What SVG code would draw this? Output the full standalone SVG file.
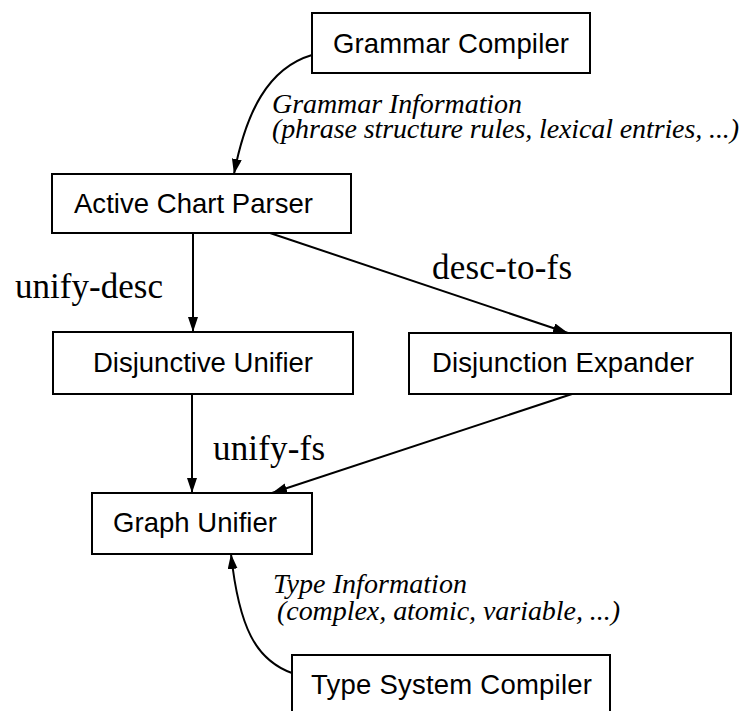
<svg xmlns="http://www.w3.org/2000/svg" width="745" height="711" viewBox="0 0 745 711">
  <defs>
    <marker id="arrow" markerUnits="userSpaceOnUse" markerWidth="16" markerHeight="11" refX="15" refY="5" orient="auto">
      <path d="M0,0 L15,5 L0,10 z" fill="#000"/>
    </marker>
    <style>
      .box { fill: #fff; stroke: #000; stroke-width: 2; }
      .name { font-family: "Liberation Sans", Arial, sans-serif; font-size: 27.5px; fill: #000; }
      .note { font-family: "Liberation Serif", "Times New Roman", serif; font-style: italic; font-size: 28px; fill: #000; }
      .call { font-family: "Liberation Serif", "Times New Roman", serif; font-size: 35px; fill: #000; }
      .edge { fill: none; stroke: #000; stroke-width: 2; marker-end: url(#arrow); }
    </style>
  </defs>
  <rect width="745" height="711" fill="#fff"/>

  <g id="connectors">
    <path class="edge" d="M312,55 C268,68 246,112 234,174"/>
    <path class="edge" d="M193,233 L193,332"/>
    <path class="edge" d="M270,233 L568,333"/>
    <path class="edge" d="M192,394 L192,493"/>
    <path class="edge" d="M572,394 L272,493"/>
    <path class="edge" d="M292,673 C256,660 239,628 231,554"/>
    <text class="note" x="272" y="113" textLength="250">Grammar Information</text>
    <text class="note" x="272" y="138" textLength="467">(phrase structure rules, lexical entries, ...)</text>
    <text class="call" x="15" y="298" textLength="148">unify-desc</text>
    <text class="call" x="432" y="279" textLength="140">desc-to-fs</text>
    <text class="call" x="213" y="460" textLength="112">unify-fs</text>
    <text class="note" x="273" y="593" textLength="194">Type Information</text>
    <text class="note" x="277" y="620" textLength="343">(complex, atomic, variable, ...)</text>
  </g>

  <g id="grammar-compiler">
    <rect class="box" x="312" y="13" width="278" height="60"/>
    <text class="name" x="333" y="53" textLength="236">Grammar Compiler</text>
  </g>
  <g id="active-chart-parser">
    <rect class="box" x="52" y="174" width="299" height="59"/>
    <text class="name" x="74" y="213" textLength="239">Active Chart Parser</text>
  </g>
  <g id="disjunctive-unifier">
    <rect class="box" x="53" y="332" width="300" height="62"/>
    <text class="name" x="93" y="372" textLength="220">Disjunctive Unifier</text>
  </g>
  <g id="disjunction-expander">
    <rect class="box" x="409" y="333" width="322" height="61"/>
    <text class="name" x="432" y="372" textLength="262">Disjunction Expander</text>
  </g>
  <g id="graph-unifier">
    <rect class="box" x="92" y="493" width="220" height="61"/>
    <text class="name" x="113" y="532" textLength="164">Graph Unifier</text>
  </g>
  <g id="type-system-compiler">
    <rect class="box" x="292" y="655" width="318" height="70"/>
    <text class="name" x="311" y="694" textLength="281">Type System Compiler</text>
  </g>
</svg>
